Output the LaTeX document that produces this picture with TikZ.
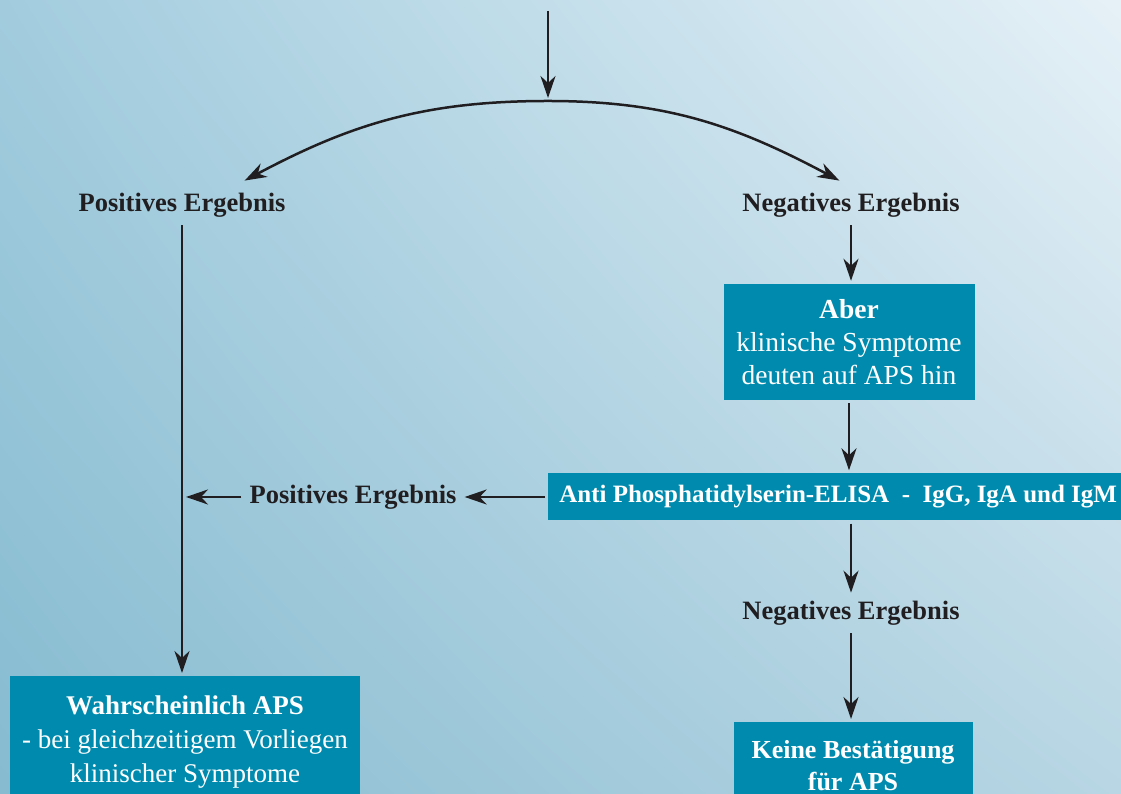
\documentclass[tikz,border=0pt]{standalone}
\usepackage{fontspec}
\setmainfont{Liberation Serif}
\usetikzlibrary{arrows.meta,positioning,shadings}
\definecolor{boxblue}{RGB}{0,139,174}
\definecolor{inkdark}{RGB}{32,30,32}
\definecolor{bgUL}{RGB}{162,204,222}
\definecolor{bgUR}{RGB}{230,241,247}
\definecolor{bgLL}{RGB}{134,187,208}
\definecolor{bgLR}{RGB}{184,214,228}
\tikzstyle{result}=[text=inkdark,font=\fontsize{26.5}{30}\selectfont\bfseries,inner sep=5pt]
\tikzstyle{infobox}=[fill=boxblue,text=white,font=\fontsize{27.5}{33}\selectfont,align=center,inner sep=5pt]
\tikzstyle{flow}=[draw=inkdark,line width=2.5pt,-{Stealth[length=22pt,width=15pt,inset=7pt]},shorten <=3pt,shorten >=3pt]

\begin{document}
\begin{tikzpicture}[x=1pt,y=1pt]
    % Page and background
    \useasboundingbox (0,0) rectangle (1121,794);
    \clip (0,0) rectangle (1121,794);
    \shade[upper left=bgUL,upper right=bgUR,lower left=bgLL,lower right=bgLR]
        (0,0) rectangle (1121,794);

    % First the labels and boxes
    \node[result] (pos) at (182,589) {Positives Ergebnis};
    \node[result] (neg) at (851,589) {Negatives Ergebnis};
    \node[infobox,minimum width=251,minimum height=116] (aber) at (849,452)
        {\textbf{Aber}\\klinische Symptome\\deuten auf APS hin};
    \node[infobox,anchor=west,minimum width=580,minimum height=47,font=\fontsize{25}{28}\selectfont\bfseries] (elisa) at (548,297)
        {Anti Phosphatidylserin-ELISA\ \ -\ \ IgG, IgA und IgM};
    \node[result] (posmid) at (353,297) {Positives Ergebnis};
    \node[result] (neglow) at (851,181) {Negatives Ergebnis};
    \node[infobox,anchor=north,minimum width=239,minimum height=86,font=\fontsize{26}{32}\selectfont\bfseries] (keine) at (853,72)
        {Keine Bestätigung\\für APS};
    \node[infobox,anchor=north,minimum width=350,minimum height=132,font=\fontsize{27}{34}\selectfont] (wahr) at (185,118)
        {\textbf{Wahrscheinlich APS}\\- bei gleichzeitigem Vorliegen\\klinischer Symptome};

    % Free ends of the top fork
    \coordinate (start) at (548,786);
    \coordinate (split) at (548,693);
    \coordinate (arcL) at (242,612);
    \coordinate (arcR) at (842,612);

    % Then the connectors
    \path[flow] (start) -- (split);
    \path[flow,shorten <=0pt] (split) to[out=180,in=28] (arcL);
    \path[flow,shorten <=0pt] (split) to[out=0,in=152] (arcR);
    \path[flow] (pos.south) -- (pos.south |- wahr.north);
    \path[flow] (neg.south) -- (neg.south |- aber.north);
    \path[flow] (aber.south) -- (aber.south |- elisa.north);
    \path[flow] (elisa.west) -- (posmid.east);
    \path[flow,shorten >=0pt] (posmid.west) -- ([xshift=4pt]pos.south |- posmid.west);
    \path[flow] (neglow.north |- elisa.south) -- (neglow.north);
    \path[flow] (neglow.south) -- (neglow.south |- keine.north);
\end{tikzpicture}
\end{document}
